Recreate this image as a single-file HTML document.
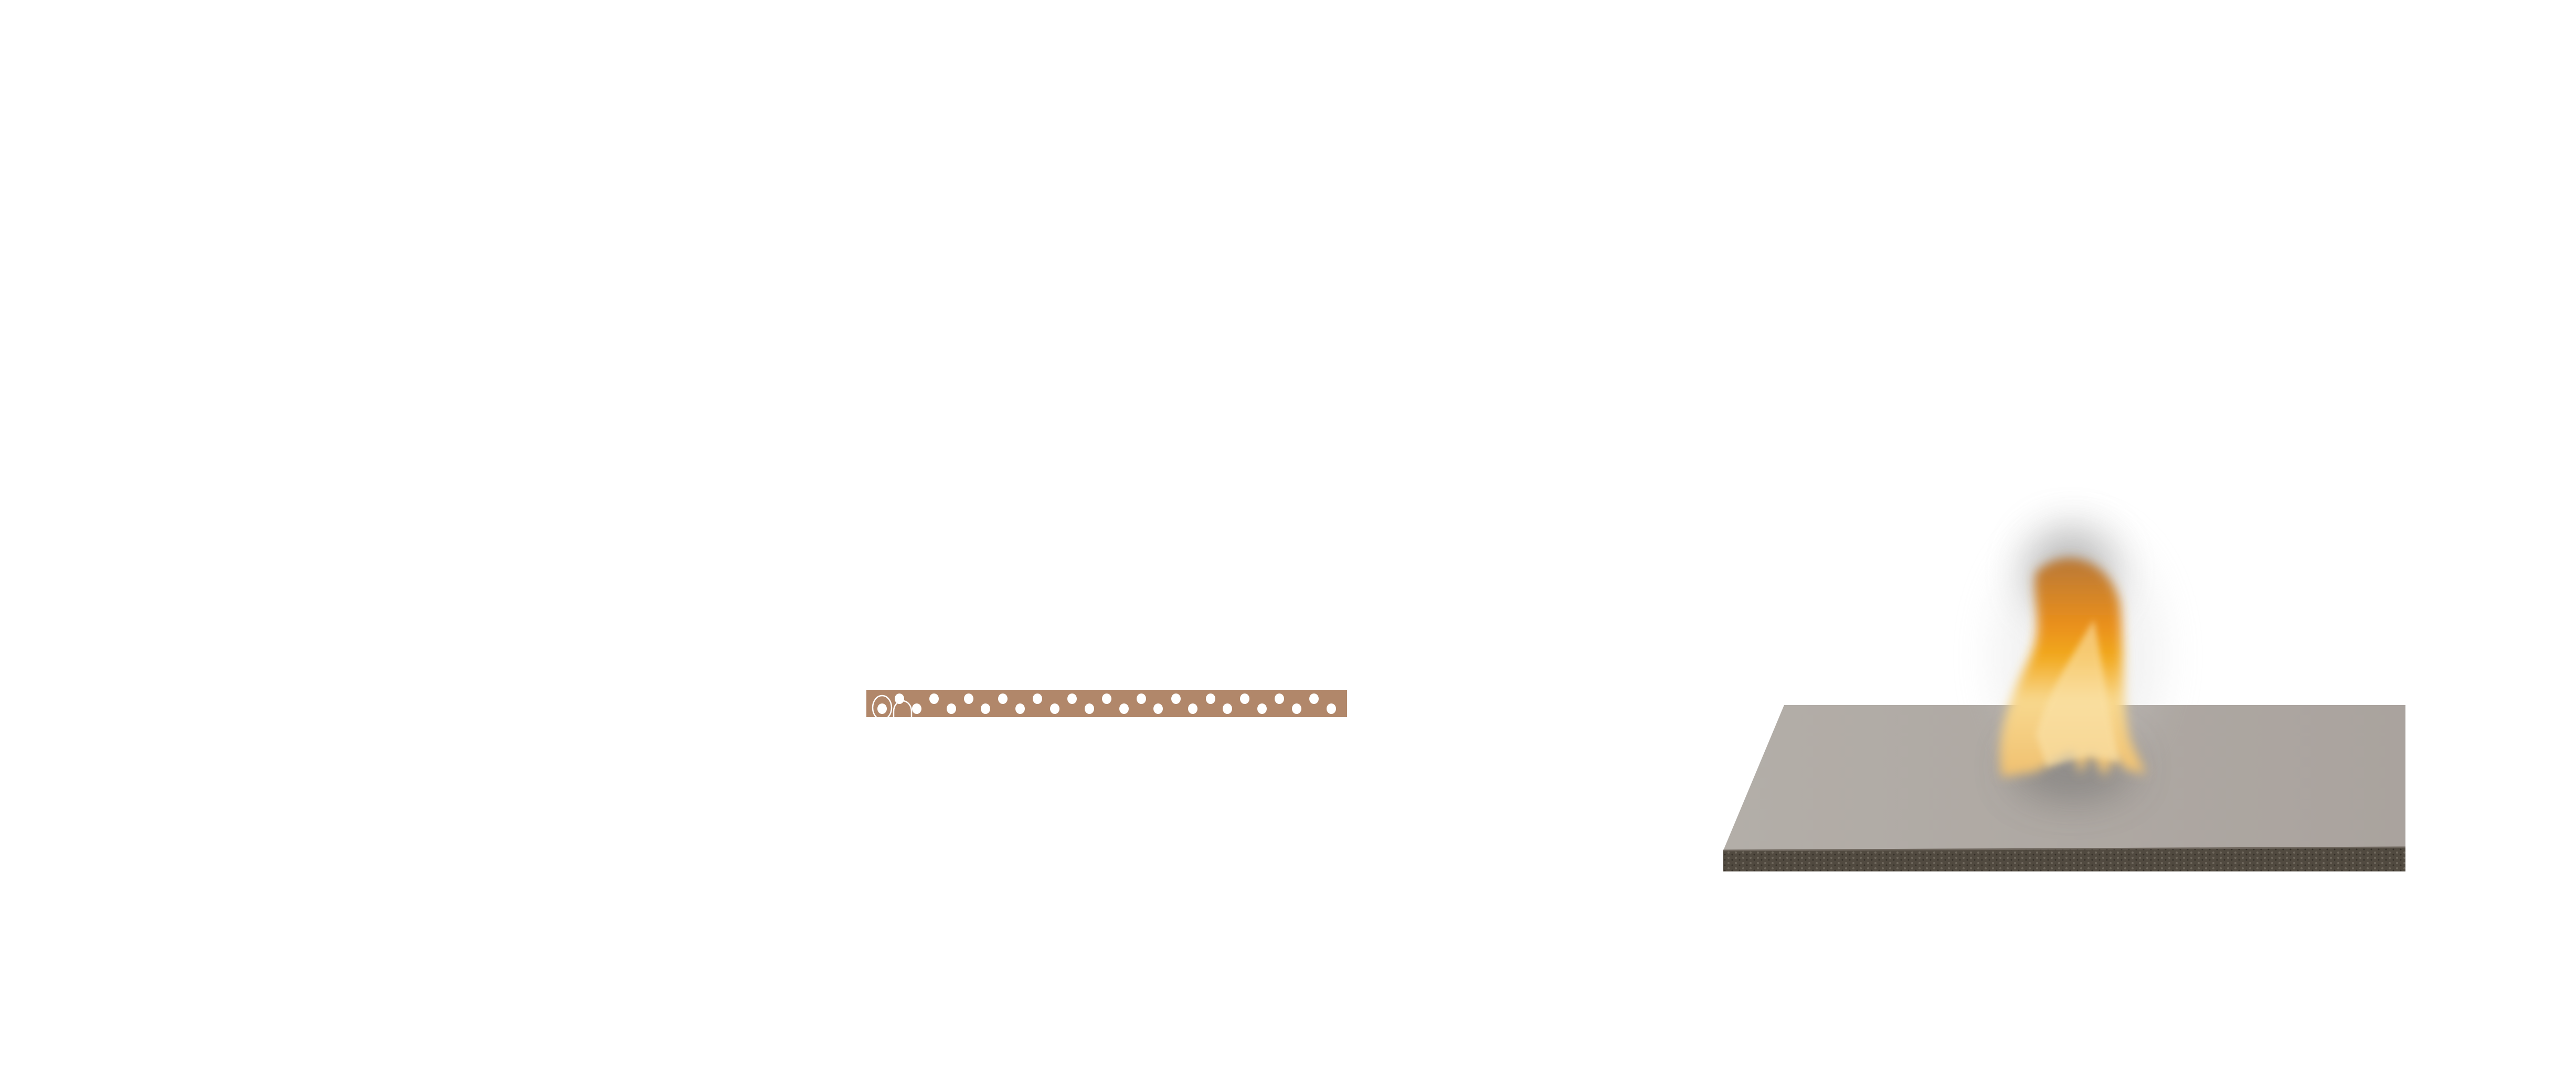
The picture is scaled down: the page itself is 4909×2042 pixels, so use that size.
<!DOCTYPE html>
<html><head><meta charset="utf-8"><style>
html,body{margin:0;padding:0;background:#fff;}
body{width:4909px;height:2042px;overflow:hidden;position:relative;}
svg{position:absolute;left:0;top:0;}
</style></head><body>
<svg width="4909" height="2042" viewBox="0 0 4909 2042" xmlns="http://www.w3.org/2000/svg">
<defs>
<filter id="b20" x="-50%" y="-50%" width="200%" height="200%"><feGaussianBlur stdDeviation="10"/></filter>
<filter id="b40" x="-80%" y="-80%" width="260%" height="260%"><feGaussianBlur stdDeviation="40"/></filter>
<filter id="b6" x="-20%" y="-20%" width="140%" height="140%"><feGaussianBlur stdDeviation="6"/></filter>
<linearGradient id="top" x1="0" y1="0" x2="1" y2="0">
<stop offset="0" stop-color="#b3aea8"/><stop offset="1" stop-color="#aaa39e"/></linearGradient>
<linearGradient id="fl" x1="0" y1="0" x2="0" y2="1">
<stop offset="0" stop-color="#b87838"/><stop offset="0.3" stop-color="#e98f1c"/><stop offset="0.45" stop-color="#f2a91e"/><stop offset="0.65" stop-color="#f8d88e"/><stop offset="1" stop-color="#f0c070"/></linearGradient>
<pattern id="pts" width="14" height="10" patternUnits="userSpaceOnUse">
<rect width="14" height="10" fill="#514a40"/><circle cx="4" cy="4" r="2" fill="#6e675c"/><circle cx="11" cy="8" r="1.5" fill="#352f28"/></pattern>
</defs>
<rect x="1651" y="1314" width="916" height="52" fill="#b1876a"/>
<g fill="#fff">
<ellipse cx="1714" cy="1331" rx="9" ry="10"/><ellipse cx="1780" cy="1331" rx="9" ry="10"/><ellipse cx="1846" cy="1331" rx="9" ry="10"/><ellipse cx="1911" cy="1331" rx="9" ry="10"/><ellipse cx="1977" cy="1331" rx="9" ry="10"/><ellipse cx="2043" cy="1331" rx="9" ry="10"/><ellipse cx="2109" cy="1331" rx="9" ry="10"/><ellipse cx="2175" cy="1331" rx="9" ry="10"/><ellipse cx="2241" cy="1331" rx="9" ry="10"/><ellipse cx="2307" cy="1331" rx="9" ry="10"/><ellipse cx="2372" cy="1331" rx="9" ry="10"/><ellipse cx="2438" cy="1331" rx="9" ry="10"/><ellipse cx="2504" cy="1331" rx="9" ry="10"/>
<ellipse cx="1681" cy="1350" rx="9" ry="10"/><ellipse cx="1747" cy="1350" rx="9" ry="10"/><ellipse cx="1813" cy="1350" rx="9" ry="10"/><ellipse cx="1878" cy="1350" rx="9" ry="10"/><ellipse cx="1944" cy="1350" rx="9" ry="10"/><ellipse cx="2010" cy="1350" rx="9" ry="10"/><ellipse cx="2076" cy="1350" rx="9" ry="10"/><ellipse cx="2142" cy="1350" rx="9" ry="10"/><ellipse cx="2207" cy="1350" rx="9" ry="10"/><ellipse cx="2273" cy="1350" rx="9" ry="10"/><ellipse cx="2339" cy="1350" rx="9" ry="10"/><ellipse cx="2405" cy="1350" rx="9" ry="10"/><ellipse cx="2471" cy="1350" rx="9" ry="10"/><ellipse cx="2537" cy="1350" rx="9" ry="10"/>
</g>
<ellipse cx="1681" cy="1348" rx="18" ry="23" fill="none" stroke="#fff" stroke-width="2.5"/>
<path d="M1703 1366 V1355 A17 20 0 0 1 1737 1355 V1366" fill="none" stroke="#fff" stroke-width="2.5"/>
<polygon points="3400,1343 4584,1343 4584,1616 3284,1620" fill="url(#top)"/>
<polygon points="3284,1620 4584,1614 4584,1660 3284,1660" fill="url(#pts)"/>
<line x1="3284" y1="1620" x2="4584" y2="1614" stroke="#6d655c" stroke-width="3"/>
<ellipse cx="3945" cy="1090" rx="80" ry="80" fill="#777" opacity="0.55" filter="url(#b40)"/>
<ellipse cx="3950" cy="1460" rx="110" ry="55" fill="#555" opacity="0.55" filter="url(#b40)"/>
<ellipse cx="3960" cy="1250" rx="160" ry="240" fill="#ccc" opacity="0.25" filter="url(#b40)"/>
<path d="M3880 1090 C3930 1040 4020 1060 4040 1150 C4050 1250 4040 1330 4060 1410 L4090 1475 L4050 1465 L4030 1440 L4010 1480 L3985 1430 L3965 1475 L3950 1430 L3880 1470 L3815 1480 C3800 1400 3830 1330 3865 1260 C3900 1190 3870 1140 3880 1090 Z" fill="url(#fl)" filter="url(#b20)"/>
<path d="M3880 1400 C3900 1320 3950 1250 3990 1180 C4010 1280 4020 1380 4040 1450 L3980 1440 L3900 1460 Z" fill="#fbe3ab" opacity="0.6" filter="url(#b6)"/>
</svg>
</body></html>
